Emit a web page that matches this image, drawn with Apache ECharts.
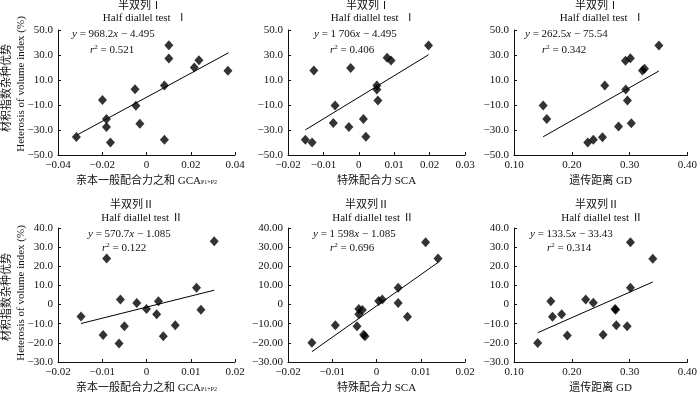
<!DOCTYPE html>
<html lang="zh">
<head>
  <meta charset="UTF-8">
  <title>半双列 材积指数杂种优势</title>
  <script src="https://cdn.jsdelivr.net/npm/echarts@6/dist/echarts.min.js"></script>
</head>
<body style="margin:0">
  <div id="main" style="width:700px;height:397px"></div>
  <script>
    // 数据：估计值
    // 半双列 I
    var gca1X = [-0.0317, -0.0199, -0.0181, -0.0181, -0.0163, -0.0052, -0.0048, -0.0030, 0.0081, 0.0081, 0.0101, 0.0101, 0.0216, 0.0237, 0.0368]
    var gca1Y = [-35.5, -6.0, -21.2, -27.5, -40.0, 2.6, -10.5, -25.0, 5.6, -37.7, 37.8, 27.3, 20.0, 25.8, 17.5]
    var sca1X = [0.0197, 0.0080, 0.0091, -0.0127, -0.0023, 0.0051, 0.0051, 0.0054, -0.0067, 0.0013, -0.0072, -0.0028, 0.0020, -0.0151, -0.0132]
    var sca1Y = [37.6, 27.8, 25.7, 17.7, 19.6, 5.6, 2.4, -6.3, -10.3, -21.2, -24.3, -27.5, -35.4, -37.8, -39.9]
    var gd1X = [0.3507, 0.2929, 0.3014, 0.3223, 0.3258, 0.2571, 0.2934, 0.2963, 0.1505, 0.1567, 0.2809, 0.3030, 0.2531, 0.2373, 0.2276]
    var gd1Y = [37.6, 25.4, 27.5, 17.7, 19.0, 5.6, 2.4, -6.3, -10.3, -21.2, -27.2, -24.6, -35.7, -37.8, -39.9]
    // 半双列 II
    var gca2X = [-0.0148, -0.0090, -0.0098, -0.0059, -0.0062, -0.0050, -0.0022, 0.0000, 0.0023, 0.0027, 0.0038, 0.0065, 0.0113, 0.0123, 0.0153]
    var gca2Y = [-6.2, 24.1, -15.9, 2.6, -20.3, -11.3, 0.8, -2.3, -5.1, 1.7, -16.6, -10.8, 8.8, -2.7, 33.1]
    var sca2X = [0.0111, 0.0139, 0.0049, 0.0005, 0.0013, 0.0049, -0.0040, -0.0032, -0.0040, 0.0070, -0.0093, -0.0044, -0.0029, -0.0026, -0.0146]
    var sca2Y = [32.6, 24.1, 8.8, 1.9, 2.6, 0.8, -2.3, -2.9, -5.1, -6.4, -10.8, -11.3, -15.7, -16.6, -20.0]
    var gd2X = [0.1410, 0.1637, 0.1666, 0.1825, 0.1922, 0.2241, 0.2372, 0.2542, 0.2759, 0.2748, 0.2770, 0.2958, 0.3015, 0.3015, 0.3402]
    var gd2Y = [-20.1, 1.7, -6.4, -5.1, -16.1, 2.6, 0.9, -15.7, -2.7, -2.3, -10.8, -11.3, 32.6, 8.8, 24.0]

    // 回归线两端点
    var trendGca1 = [[-0.0314, -34.0], [0.0371, 31.8]]
    var trendSca1 = [[-0.0151, -29.9], [0.0197, 30.2]]
    var trendGd1 = [[0.1505, -35.4], [0.3507, 17.2]]
    var trendGca2 = [[-0.0148, -9.9], [0.0153, 7.5]]
    var trendSca2 = [[-0.0146, -24.6], [0.0139, 22.0]]
    var trendGd2 = [[0.1410, -14.7], [0.3402, 11.8]]

    // 刻度标签
    var yTicksI = ['−50.0', '−30.0', '−10.0', '10.0', '30.0', '50.0']
    var yTicksII = ['−30.0', '−20.0', '−10.0', '0', '10.0', '20.0', '30.0', '40.0']
    var yTicksII2 = ['−30.00', '−20.00', '−10.00', '0', '10.00', '20.00', '30.00', '40.00']
    var xTicksGca1 = ['−0.04', '−0.02', '0', '0.02', '0.04']
    var xTicksSca1 = ['−0.02', '−0.01', '0', '0.01', '0.02', '0.03']
    var xTicksSmall = ['−0.02', '−0.01', '0', '0.01', '0.02']
    var xTicksGd = ['0.10', '0.20', '0.30', '0.40']

    var equations = ['968.2', '1 706', '262.5', '570.7', '1 598', '133.5']
    var intercepts = ['4.495', '4.495', '75.54', '1.085', '1.085', '33.43']
    var r2Values = ['0.521', '0.406', '0.342', '0.122', '0.696', '0.314']

    var FONT = '"Liberation Serif", "Times New Roman", "Noto Sans CJK SC", serif'
    var INK = '#111'

    function zip(xs, ys) {
      return xs.map(function (v, i) { return [v, ys[i]] })
    }

    var panels = [
      { x: gca1X, y: gca1Y, trend: trendGca1, left: 58, top: 30, h: 125, xr: [-0.04, 0.04, 0.02], xt: xTicksGca1, yr: [-50, 50, 20], yt: yTicksI, name: 'gca' },
      { x: sca1X, y: sca1Y, trend: trendSca1, left: 288, top: 30, h: 125, xr: [-0.02, 0.03, 0.01], xt: xTicksSca1, yr: [-50, 50, 20], yt: yTicksI, name: '特殊配合力 SCA' },
      { x: gd1X, y: gd1Y, trend: trendGd1, left: 514, top: 30, h: 125, xr: [0.1, 0.4, 0.1], xt: xTicksGd, yr: [-50, 50, 20], yt: yTicksI, name: '遗传距离 GD' },
      { x: gca2X, y: gca2Y, trend: trendGca2, left: 58, top: 228, h: 134, xr: [-0.02, 0.02, 0.01], xt: xTicksSmall, yr: [-30, 40, 10], yt: yTicksII, name: 'gca' },
      { x: sca2X, y: sca2Y, trend: trendSca2, left: 288, top: 228, h: 134, xr: [-0.02, 0.02, 0.01], xt: xTicksSmall, yr: [-30, 40, 10], yt: yTicksII2, name: '特殊配合力 SCA' },
      { x: gd2X, y: gd2Y, trend: trendGd2, left: 514, top: 228, h: 134, xr: [0.1, 0.4, 0.1], xt: xTicksGd, yr: [-30, 40, 10], yt: yTicksII, name: '遗传距离 GD' }
    ]

    var grids = [], xAxes = [], yAxes = [], series = []
    panels.forEach(function (p, i) {
      grids.push({ left: p.left, top: p.top, width: 177, height: p.h })
      xAxes.push({
        type: 'value', gridIndex: i, min: p.xr[0], max: p.xr[1], interval: p.xr[2],
        splitLine: { show: false },
        axisLine: { onZero: false, lineStyle: { color: INK, width: 1 } },
        axisTick: { inside: true, length: 3, lineStyle: { color: INK } },
        axisLabel: {
          margin: 5, color: INK, fontFamily: FONT, fontSize: 11,
          formatter: (function (lab, mn, iv) {
            return function (v) { return lab[Math.round((v - mn) / iv)] }
          })(p.xt, p.xr[0], p.xr[2])
        },
        name: p.name === 'gca' ? '亲本一般配合力之和 GCA{s|P1+P2}' : p.name,
        nameLocation: 'middle', nameGap: 21,
        nameTextStyle: {
          color: INK, fontFamily: FONT, fontSize: 11,
          rich: { s: { fontSize: 6, fontFamily: FONT, color: INK, padding: [1, 0, 0, 0] } }
        }
      })
      yAxes.push({
        type: 'value', gridIndex: i, min: p.yr[0], max: p.yr[1], interval: p.yr[2],
        splitLine: { show: false },
        axisLine: { show: true, onZero: false, lineStyle: { color: INK, width: 1 } },
        axisTick: { show: true, inside: true, length: 3, lineStyle: { color: INK } },
        axisLabel: {
          margin: 5, color: INK, fontFamily: FONT, fontSize: 11,
          formatter: (function (lab, mn, iv) {
            return function (v) { return lab[Math.round((v - mn) / iv)] }
          })(p.yt, p.yr[0], p.yr[2])
        }
      })
      series.push({
        type: 'scatter', xAxisIndex: i, yAxisIndex: i,
        data: zip(p.x, p.y),
        symbol: 'diamond', symbolSize: [9, 10],
        itemStyle: { color: '#000' }
      })
      series.push({
        type: 'line', xAxisIndex: i, yAxisIndex: i,
        data: p.trend, symbol: 'none',
        lineStyle: { color: '#000', width: 1 }
      })
    })

    // 文字：标题、方程、纵轴名称
    var graphics = []
    var titleSpots = [[140, 145, 6, 18], [368, 373, 6, 18], [597, 602, 6, 18],
                      [132, 142, 205, 218], [367, 373, 205, 218], [597, 602, 205, 218]]
    var eqSpots = [[72, 34, 90, 50], [314, 34, 330, 50], [525, 34, 542, 50],
                   [88, 234, 102, 248], [313, 234, 330, 248], [530, 234, 547, 248]]
    titleSpots.forEach(function (t, i) {
      var roman = i < 3 ? ' Ⅰ' : 'Ⅱ'
      graphics.push({ type: 'text', style: { text: '半双列' + roman.trim(), x: t[0], y: t[2], align: 'center', verticalAlign: 'middle', fill: INK, font: '11px ' + FONT } })
      graphics.push({ type: 'text', style: { text: 'Half diallel test ' + roman, x: t[1], y: t[3], align: 'center', verticalAlign: 'middle', fill: INK, font: '11px ' + FONT } })
    })
    eqSpots.forEach(function (e, i) {
      var rich = {
        i: { fontStyle: 'italic', fontFamily: FONT, fontSize: 11, fill: INK },
        sup: { fontFamily: FONT, fontSize: 7, fill: INK, padding: [0, 0, 6, 0] }
      }
      graphics.push({ type: 'text', style: { text: '{i|y} = ' + equations[i] + '{i|x} − ' + intercepts[i], x: e[0], y: e[1], verticalAlign: 'middle', fill: INK, font: '11px ' + FONT, rich: rich } })
      graphics.push({ type: 'text', style: { text: '{i|r}{sup|2} = ' + r2Values[i], x: e[2], y: e[3], verticalAlign: 'middle', fill: INK, font: '11px ' + FONT, rich: rich } })
    })
    ;[[88, 84], [297, 293]].forEach(function (c) {
      graphics.push({ type: 'text', x: 7, y: c[0], rotation: Math.PI / 2, style: { text: '材积指数杂种优势', align: 'center', verticalAlign: 'middle', fill: INK, font: '11px ' + FONT } })
      graphics.push({ type: 'text', x: 21, y: c[1], rotation: Math.PI / 2, style: { text: 'Heterosis of volume index (%)', align: 'center', verticalAlign: 'middle', fill: INK, font: '11px ' + FONT } })
    })

    var myChart = echarts.init(document.getElementById('main'))
    myChart.setOption({
      animation: false,
      backgroundColor: '#fff',
      grid: grids,
      xAxis: xAxes,
      yAxis: yAxes,
      series: series,
      graphic: graphics
    })
  </script>
</body>
</html>
